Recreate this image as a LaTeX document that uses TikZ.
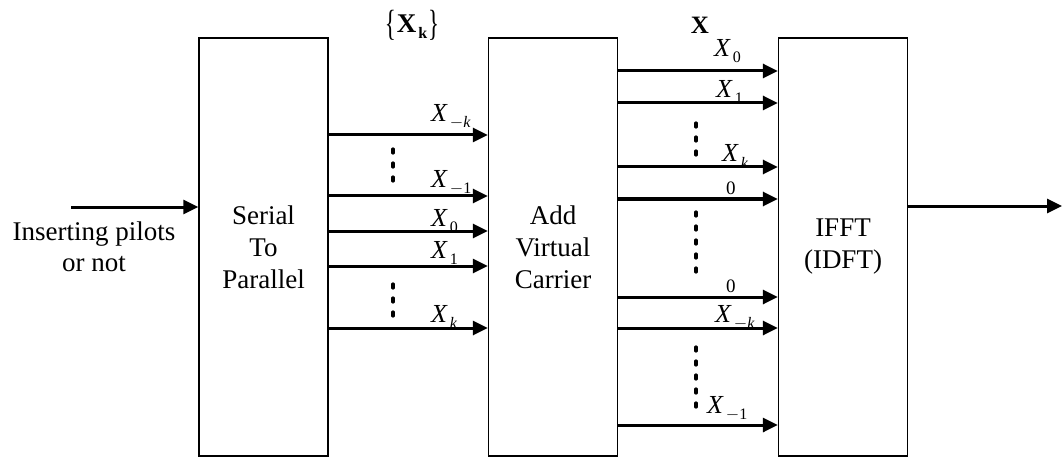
\documentclass[tikz,border=0pt]{standalone}
\usepackage{fontspec}
\setmainfont{Liberation Serif}
\usetikzlibrary{arrows.meta}
\newcommand\Xlab[1]{\textit{X}\kern2pt\raisebox{-6pt}{\fontsize{16}{16}\selectfont #1}}
\newcommand\thinbrace[1]{\raisebox{-3pt}{\scalebox{0.85}[1.35]{\fontsize{27}{27}\selectfont #1}}}
\begin{document}
\begin{tikzpicture}[x=1pt,y=-1pt,
  blockbox/.style={draw, line width=1.3pt, minimum width=129pt, minimum height=418pt, inner sep=0pt, align=center, font=\fontsize{27}{32}\selectfont},
  sig/.style={line width=3pt, -{Triangle[length=15pt,width=14pt]}},
  dotline/.style={line width=3.2pt, line cap=round, dash pattern=on 4pt off 10pt},
  lab/.style={anchor=base west, inner sep=0pt, font=\fontsize{26}{26}\selectfont},
  zlab/.style={anchor=base west, inner sep=0pt, font=\fontsize{19}{19}\selectfont}]
\useasboundingbox (0,0) rectangle (1062,457);

% blocks
\node[blockbox] (sp)   at (263.5,247) {Serial\\To\\Parallel};
\node[blockbox] (avc)  at (553,247)   {Add\\Virtual\\Carrier};
\node[blockbox] (ifft) at (843,247)   {IFFT\\(IDFT)};

% input / output
\coordinate (inS) at (71,207);
\coordinate (outE) at (1062,206);
\node[align=center, inner sep=0pt, font=\fontsize{27}{31}\selectfont] (inlab) at (94,247) {Inserting pilots\\or not};
\draw[sig] (inS) -- (sp.west |- inS);
\draw[sig] (ifft.east |- outE) -- (outE);

% top labels
\node[inner sep=0pt, font=\fontsize{27}{27}\selectfont] (xk) at (412,25)
  {\thinbrace{\{}\kern1pt\textbf{X}\kern2pt\raisebox{-6pt}{\fontsize{16}{16}\selectfont\bfseries k}\kern1pt\thinbrace{\}}};
\node[inner sep=0pt, font=\fontsize{25}{25}\selectfont\bfseries] (xv) at (700,25) {X};

% serial-to-parallel outputs
\foreach \yy in {135,196,231,266,328}
  \draw[sig] (sp.east |- 0,\yy) -- (avc.west |- 0,\yy);
\node[lab] (l1) at (431,122) {\Xlab{$-$\textit{k}}};
\node[lab] (l2) at (431,187) {\Xlab{$-$1}};
\node[lab] (l3) at (431,226) {\Xlab{0}};
\node[lab] (l4) at (431,258) {\Xlab{1}};
\node[lab] (l5) at (431,322) {\Xlab{\textit{k}}};
\draw[dotline] (393,149) -- (393,181);
\draw[dotline] (393,284) -- (393,316);

% virtual carrier outputs
\foreach \yy in {71,103,167,199,297,328,425}
  \draw[sig] (avc.east |- 0,\yy) -- (ifft.west |- 0,\yy);
\node[lab] (r1) at (714,57)  {\Xlab{0}};
\node[lab] (r2) at (716,98)  {\Xlab{1}};
\node[lab] (r3) at (722,162) {\Xlab{\textit{k}}};
\node[zlab] (r4) at (726,194) {0};
\node[zlab] (r5) at (726,292) {0};
\node[lab] (r6) at (715,322) {\Xlab{$-$\textit{k}}};
\node[lab] (r7) at (707,413) {\Xlab{$-$1}};
\draw[dotline] (696,123) -- (696,155);
\draw[dotline] (696,212) -- (696,272);
\draw[dotline] (696,347) -- (696,408);
\end{tikzpicture}
\end{document}
